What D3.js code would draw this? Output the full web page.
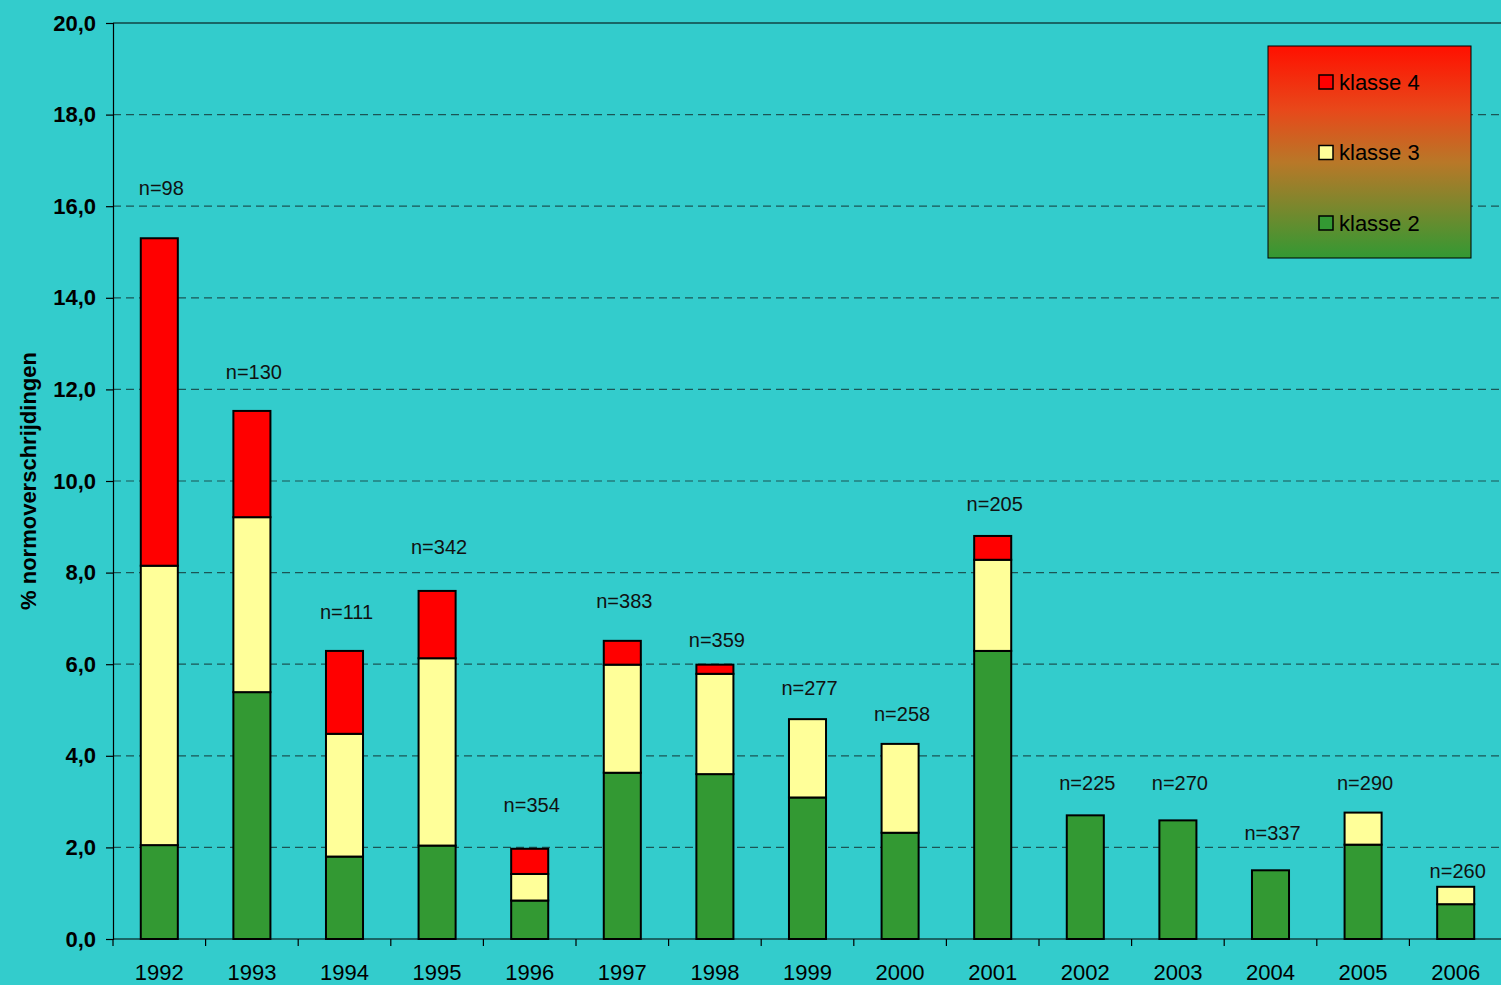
<!DOCTYPE html>
<html><head><meta charset="utf-8">
<script src="https://cdn.jsdelivr.net/npm/d3@7"></script>
<style>body{margin:0;background:#33CCCC;} svg{display:block;}</style>
</head><body>
<svg id="c" width="1501" height="985"></svg>
<script>
const years = ["1992","1993","1994","1995","1996","1997","1998","1999","2000","2001","2002","2003","2004","2005","2006"];
const klasse2 = [2.05, 5.39, 1.80, 2.04, 0.84, 3.63, 3.60, 3.09, 2.32, 6.29, 2.70, 2.59, 1.50, 2.06, 0.76];
const klasse3 = [6.10, 3.82, 2.68, 4.09, 0.58, 2.36, 2.19, 1.71, 1.94, 1.99, 0, 0, 0, 0.70, 0.38];
const klasse4 = [7.15, 2.32, 1.81, 1.47, 0.55, 0.52, 0.20, 0, 0, 0.52, 0, 0, 0, 0, 0];
const nLabels = ["n=98","n=130","n=111","n=342","n=354","n=383","n=359","n=277","n=258","n=205","n=225","n=270","n=337","n=290","n=260"];
const nLabelLevel = [16.4, 12.38, 7.14, 8.56, 2.93, 7.38, 6.53, 5.48, 4.91, 9.50, 3.41, 3.41, 2.31, 3.41, 1.48];
const yTicks = [0,2,4,6,8,10,12,14,16,18,20];
const seriesNames = ["klasse 2","klasse 3","klasse 4"];
const seriesColors = ["#339933","#FFFF99","#FF0000"];

const FONT = "Liberation Sans, Arial, sans-serif";
const svg = d3.select("#c");
const m = {left:113, top:23, right:1502, bottom:939};
const x = d3.scaleBand().domain(years).range([m.left, m.right]).paddingInner(0.6).paddingOuter(0.3);
const xb = d3.scaleBand().domain(years).range([m.left, m.right]);
const y = d3.scaleLinear().domain([0,20]).range([m.bottom, m.top]);

// gridlines
svg.append("g").selectAll("line").data(yTicks.filter(t=>t>0 && t<20)).join("line")
  .attr("x1", m.left).attr("x2", m.right).attr("y1", d=>y(d)).attr("y2", d=>y(d))
  .attr("stroke","#1b5555").attr("stroke-width",1.2).attr("stroke-dasharray","8,5");
// top border
svg.append("line").attr("x1", m.left).attr("x2", m.right).attr("y1", y(20)).attr("y2", y(20))
  .attr("stroke","#000").attr("stroke-width",1.2);

// stacked bars
const table = years.map((yr,i)=>({year:yr, "klasse 2":klasse2[i], "klasse 3":klasse3[i], "klasse 4":klasse4[i]}));
const stack = d3.stack().keys(seriesNames)(table);
stack.forEach((s,si)=>{
  svg.append("g").selectAll("rect").data(s.filter(d=>d[1]-d[0]>0)).join("rect")
    .attr("x", d=>x(d.data.year)).attr("width", x.bandwidth())
    .attr("y", d=>y(d[1])).attr("height", d=>y(d[0])-y(d[1]))
    .attr("fill", seriesColors[si]).attr("stroke","#000").attr("stroke-width",2);
});

// n labels
svg.append("g").selectAll("text").data(years).join("text")
  .attr("x", d=>x(d)+x.bandwidth()/2+2).attr("y", (d,i)=>y(nLabelLevel[i]))
  .attr("dy","0.35em").attr("text-anchor","middle")
  .attr("font-family",FONT).attr("font-size",20).attr("fill","#111")
  .text((d,i)=>nLabels[i]);

// y axis
const yAxis = d3.axisLeft(y).tickValues(yTicks).tickSize(7).tickPadding(10)
  .tickFormat(d=>d3.format(".1f")(d).replace(".",","));
const gy = svg.append("g").attr("transform",`translate(${m.left},0)`).call(yAxis);
gy.select(".domain").attr("stroke","#000").attr("stroke-width",1.2);
gy.selectAll(".tick line").attr("stroke","#000").attr("stroke-width",1.2);
gy.selectAll("text").attr("font-family",FONT).attr("font-size",22)
  .attr("font-weight","bold").attr("fill","#000");

// x axis
const gx = svg.append("g").attr("transform",`translate(0,${m.bottom})`);
gx.append("line").attr("x1",m.left).attr("x2",m.right).attr("stroke","#000").attr("stroke-width",1.2);
gx.selectAll(".tk").data(years.concat(["end"])).join("line").attr("class","tk")
  .attr("x1",(d,i)=> i<years.length? xb(d) : m.right).attr("x2",(d,i)=> i<years.length? xb(d) : m.right)
  .attr("y1",0).attr("y2",7).attr("stroke","#000").attr("stroke-width",1.2);
gx.selectAll("text").data(years).join("text")
  .attr("x", d=>x(d)+x.bandwidth()/2).attr("y", 33).attr("dy","0.35em").attr("text-anchor","middle")
  .attr("font-family",FONT).attr("font-size",22).attr("fill","#000")
  .text(d=>d);

// y title
svg.append("text").attr("transform","translate(28,481) rotate(-90)").attr("text-anchor","middle")
  .attr("dy","0.35em").attr("font-family",FONT).attr("font-size",22)
  .attr("font-weight","bold").attr("fill","#000").text("% normoverschrijdingen");

// legend
const defs = svg.append("defs");
const grad = defs.append("linearGradient").attr("id","lg").attr("x1",0).attr("y1",0).attr("x2",0).attr("y2",1);
grad.append("stop").attr("offset","0%").attr("stop-color","#FF1000");
grad.append("stop").attr("offset","30%").attr("stop-color","#E8481A");
grad.append("stop").attr("offset","55%").attr("stop-color","#B87828");
grad.append("stop").attr("offset","100%").attr("stop-color","#339933");
const lg = svg.append("g").attr("transform","translate(1268,46)");
lg.append("rect").attr("width",203).attr("height",212).attr("fill","url(#lg)").attr("stroke","#000").attr("stroke-width",1);
const legendOrder = [2,1,0];
legendOrder.forEach((si,k)=>{
  const yy = 36 + k*70.5;
  lg.append("rect").attr("x",51).attr("y",yy-7).attr("width",14).attr("height",14)
    .attr("fill",seriesColors[si]).attr("stroke","#000").attr("stroke-width",1.5);
  lg.append("text").attr("x",71).attr("y",yy).attr("dy","0.35em")
    .attr("font-family",FONT).attr("font-size",22).attr("fill","#000")
    .text(seriesNames[si]);
});
</script>
</body></html>
